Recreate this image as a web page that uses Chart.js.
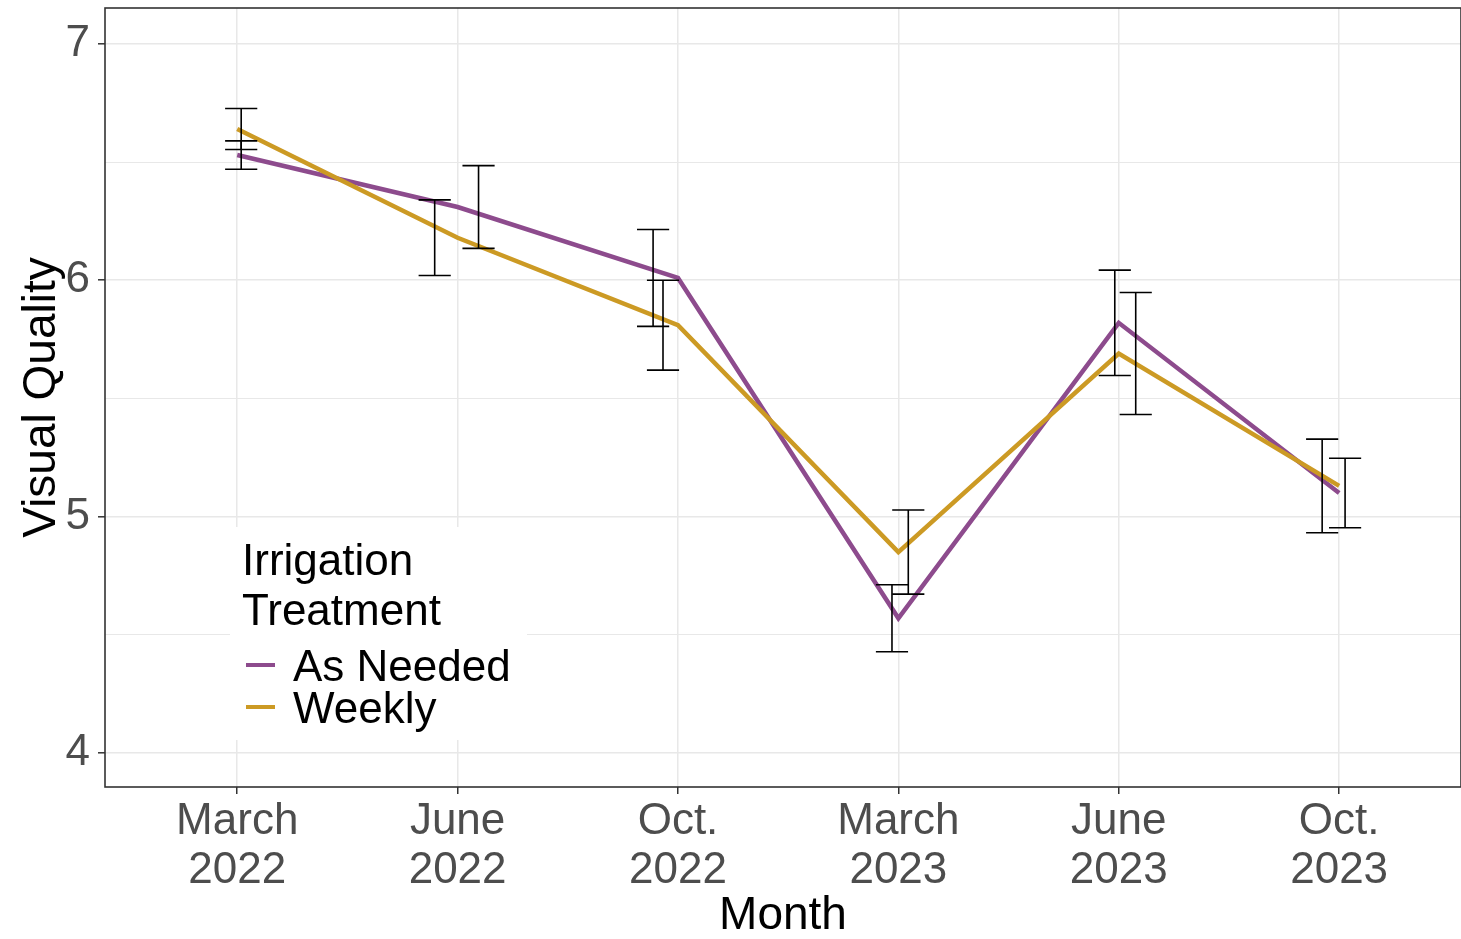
<!DOCTYPE html>
<html>
<head>
<meta charset="utf-8">
<title>Visual Quality by Month</title>
<script src="https://cdn.jsdelivr.net/npm/chart.js@4.4.1/dist/chart.umd.min.js"></script>
<style>
    html, body { margin: 0; padding: 0; background: #fff; }
    #wrap { width: 1461px; height: 939px; position: relative; }
</style>
</head>
<body>
<div id="wrap"><canvas id="qualityChart"></canvas></div>
<script>
// ==========================================
// Visual quality by irrigation treatment
// ==========================================

const months = [['March', '2022'], ['June', '2022'], ['Oct.', '2022'], ['March', '2023'], ['June', '2023'], ['Oct.', '2023']];
const yTicks = [4, 4.5, 5, 5.5, 6, 6.5, 7];

const asNeededMean = [6.53, 6.31, 6.01, 4.57, 5.82, 5.10];
const asNeededSE = [0.06, 0.175, 0.205, 0.142, 0.223, 0.147];
const weeklyMean = [6.64, 6.18, 5.81, 4.85, 5.69, 5.13];
const weeklySE = [0.087, 0.16, 0.19, 0.178, 0.258, 0.198];

// horizontal jitter of the error bars, in month units
const asNeededDodge = [0.018, 0.095, -0.113, -0.029, -0.018, 0.027];
const weeklyDodge = [0.018, -0.104, -0.068, 0.045, 0.077, -0.077];

const FONT = "'Liberation Sans', Arial, sans-serif";
const PURPLE = '#8d4b8d';
const GOLD = '#cc9a24';

const series = [
    { label: 'As Needed', color: PURPLE, mean: asNeededMean, se: asNeededSE, dodge: asNeededDodge, order: 1 },
    { label: 'Weekly', color: GOLD, mean: weeklyMean, se: weeklySE, dodge: weeklyDodge, order: 0 }
];

document.addEventListener('DOMContentLoaded', () => {
    initChart();
});

/**
 * Mean +/- SE bars, drawn over the lines
 */
const errorBars = {
    id: 'errorBars',
    afterDatasetsDraw(chart) {
        const { ctx, scales: { x, y } } = chart;
        const half = x.getPixelForValue(0.073) - x.getPixelForValue(0);
        ctx.save();
        ctx.strokeStyle = '#000';
        ctx.lineWidth = 1.6;
        series.forEach(s => {
            s.mean.forEach((m, i) => {
                const px = x.getPixelForValue(i + s.dodge[i]);
                const top = y.getPixelForValue(m + s.se[i]);
                const bot = y.getPixelForValue(m - s.se[i]);
                ctx.beginPath();
                ctx.moveTo(px, top);
                ctx.lineTo(px, bot);
                ctx.moveTo(px - half, top);
                ctx.lineTo(px + half, top);
                ctx.moveTo(px - half, bot);
                ctx.lineTo(px + half, bot);
                ctx.stroke();
            });
        });
        ctx.restore();
    }
};

/**
 * Panel border + legend inside the plot
 */
const panel = {
    id: 'panel',
    afterDraw(chart) {
        const { ctx, chartArea: a } = chart;
        ctx.save();
        ctx.strokeStyle = '#333';
        ctx.lineWidth = 1.6;
        ctx.strokeRect(a.left, a.top, a.right - a.left, a.bottom - a.top);

        // legend
        const lx = a.left + 125;
        const ly = a.top + 519;
        ctx.fillStyle = '#fff';
        ctx.fillRect(lx, ly, 297, 213);

        ctx.fillStyle = '#000';
        ctx.font = `44px ${FONT}`;
        ctx.textAlign = 'left';
        ctx.textBaseline = 'alphabetic';
        ctx.fillText('Irrigation', lx + 12, ly + 48);
        ctx.fillText('Treatment', lx + 12, ly + 98);

        series.forEach((s, k) => {
            const cy = ly + 138 + k * 42;
            ctx.strokeStyle = s.color;
            ctx.lineWidth = 4;
            ctx.beginPath();
            ctx.moveTo(lx + 16, cy);
            ctx.lineTo(lx + 45, cy);
            ctx.stroke();
            ctx.fillText(s.label, lx + 63, cy + 16);
        });
        ctx.restore();
    }
};

function initChart() {
    const ctx = document.getElementById('qualityChart');
    if (!ctx) return;

    new Chart(ctx, {
        type: 'line',
        data: {
            datasets: series.map(s => ({
                label: s.label,
                data: s.mean.map((m, i) => ({ x: i, y: m })),
                borderColor: s.color,
                borderWidth: 4.5,
                pointRadius: 0,
                tension: 0,
                order: s.order
            }))
        },
        options: {
            responsive: true,
            maintainAspectRatio: false,
            animation: false,
            layout: { padding: { top: 8, right: 0, left: 0, bottom: 0 } },
            plugins: {
                legend: { display: false },
                tooltip: { enabled: false }
            },
            scales: {
                x: {
                    type: 'linear',
                    min: -0.6,
                    max: 5.553,
                    afterBuildTicks: scale => {
                        scale.ticks = months.map((_, i) => ({ value: i }));
                    },
                    afterFit: scale => {
                        scale.height = 152;
                        scale.paddingLeft = 0;
                        scale.paddingRight = 0;
                    },
                    border: { display: false },
                    grid: {
                        color: '#e8e8e8',
                        lineWidth: 1.5,
                        tickLength: 7,
                        tickColor: '#333',
                        tickWidth: 1.5
                    },
                    ticks: {
                        autoSkip: false,
                        maxRotation: 0,
                        padding: 4,
                        color: '#4d4d4d',
                        font: { family: FONT, size: 44, lineHeight: 1.1 },
                        callback: v => months[v]
                    },
                    title: {
                        display: true,
                        text: 'Month',
                        color: '#000',
                        padding: { top: 0, bottom: 0 },
                        font: { family: FONT, size: 46, lineHeight: 1.0 }
                    }
                },
                y: {
                    min: 3.856,
                    max: 7.152,
                    afterBuildTicks: scale => {
                        scale.ticks = yTicks.map(v => ({ value: v }));
                    },
                    afterFit: scale => {
                        scale.width = 105;
                        scale.paddingTop = 0;
                        scale.paddingBottom = 0;
                    },
                    border: { display: false },
                    grid: {
                        color: '#e8e8e8',
                        lineWidth: c => Number.isInteger(c.tick.value) ? 1.6 : 1.1,
                        tickLength: 7,
                        tickColor: c => Number.isInteger(c.tick.value) ? '#333' : 'rgba(0,0,0,0)',
                        tickWidth: 1.5
                    },
                    ticks: {
                        padding: 8,
                        color: '#4d4d4d',
                        font: { family: FONT, size: 44 },
                        callback: v => Number.isInteger(v) ? String(v) : ''
                    },
                    title: {
                        display: true,
                        text: 'Visual Quality',
                        color: '#000',
                        padding: { top: 15, bottom: 0 },
                        font: { family: FONT, size: 46, lineHeight: 1.2 }
                    }
                }
            }
        },
        plugins: [errorBars, panel]
    });
}
</script>
</body>
</html>
